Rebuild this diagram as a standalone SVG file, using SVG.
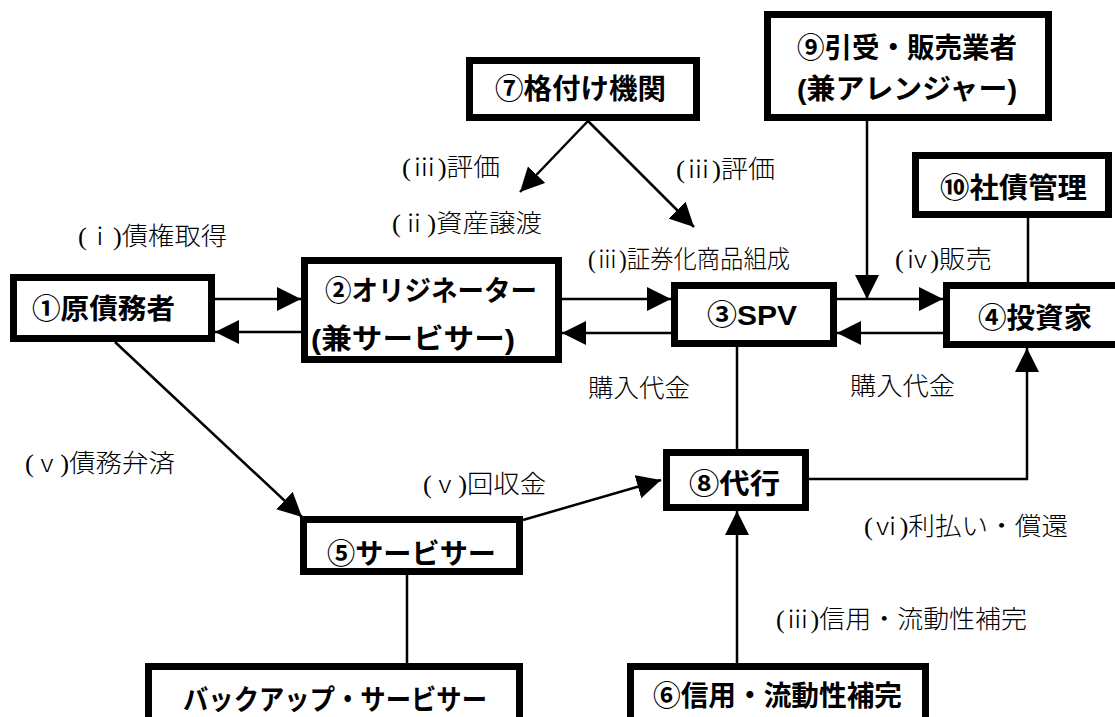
<svg xmlns="http://www.w3.org/2000/svg" width="1115" height="717" viewBox="0 0 1115 717">
<style>
.box{fill:#fff;stroke:#000;stroke-width:7}
.ln{stroke:#000;stroke-width:2.5;fill:none}
.nt{font-family:"Liberation Sans","Noto Sans CJK JP",sans-serif;font-size:28px;font-weight:700;fill:#000}
.lbl{font-family:"Liberation Serif","Noto Sans CJK JP",serif;font-size:25px;font-weight:300;fill:#000}
</style>
<defs>
<marker id="ah" markerUnits="userSpaceOnUse" markerWidth="24" markerHeight="24" viewBox="0 0 24 24" refX="24" refY="12" orient="auto">
<path d="M0,0 L24,12 L0,24 z" fill="#000"/>
</marker>
</defs>
<rect width="1115" height="717" fill="#fff"/>
<g id="connectors">
<line class="ln" x1="215" y1="299" x2="301" y2="299" marker-end="url(#ah)"/>
<line class="ln" x1="301" y1="332" x2="215" y2="332" marker-end="url(#ah)"/>
<line class="ln" x1="562" y1="299" x2="671" y2="299" marker-end="url(#ah)"/>
<line class="ln" x1="671" y1="333" x2="562" y2="333" marker-end="url(#ah)"/>
<line class="ln" x1="837" y1="299" x2="943" y2="299" marker-end="url(#ah)"/>
<line class="ln" x1="943" y1="333" x2="837" y2="333" marker-end="url(#ah)"/>
<line class="ln" x1="867" y1="121" x2="867" y2="299" marker-end="url(#ah)"/>
<line class="ln" x1="1028" y1="218" x2="1028" y2="282"/>
<line class="ln" x1="737" y1="347" x2="737" y2="449"/>
<polyline class="ln" points="809,479 1027,479 1027,348" marker-end="url(#ah)"/>
<line class="ln" x1="115" y1="342" x2="302" y2="517" marker-end="url(#ah)"/>
<line class="ln" x1="523" y1="520" x2="661" y2="480" marker-end="url(#ah)"/>
<line class="ln" x1="407" y1="575" x2="407" y2="663"/>
<line class="ln" x1="737" y1="663" x2="737" y2="511" marker-end="url(#ah)"/>
<line class="ln" x1="588" y1="121" x2="520" y2="192" marker-end="url(#ah)"/>
<line class="ln" x1="588" y1="121" x2="694" y2="227" marker-end="url(#ah)"/>
</g>
<g id="labels">
<text class="lbl" x="78" y="244.5" textLength="149" lengthAdjust="spacingAndGlyphs">(ⅰ)債権取得</text>
<text class="lbl" x="402" y="175.5" textLength="98" lengthAdjust="spacingAndGlyphs">(ⅲ)評価</text>
<text class="lbl" x="392" y="231.5" textLength="150" lengthAdjust="spacingAndGlyphs">(ⅱ)資産譲渡</text>
<text class="lbl" x="676" y="177.5" textLength="99" lengthAdjust="spacingAndGlyphs">(ⅲ)評価</text>
<text class="lbl" x="588" y="267.5" textLength="202" lengthAdjust="spacingAndGlyphs">(ⅲ)証券化商品組成</text>
<text class="lbl" x="895" y="267.5" textLength="97" lengthAdjust="spacingAndGlyphs">(ⅳ)販売</text>
<text class="lbl" x="588" y="396.5" textLength="102" lengthAdjust="spacingAndGlyphs">購入代金</text>
<text class="lbl" x="850" y="394.5" textLength="105" lengthAdjust="spacingAndGlyphs">購入代金</text>
<text class="lbl" x="25" y="471.5" textLength="150" lengthAdjust="spacingAndGlyphs">(ⅴ)債務弁済</text>
<text class="lbl" x="423" y="492.5" textLength="123" lengthAdjust="spacingAndGlyphs">(ⅴ)回収金</text>
<text class="lbl" x="864" y="534.5" textLength="204" lengthAdjust="spacingAndGlyphs">(ⅵ)利払い・償還</text>
<text class="lbl" x="776" y="627.5" textLength="251" lengthAdjust="spacingAndGlyphs">(ⅲ)信用・流動性補完</text>
</g>
<g id="n1"><rect class="box" x="13.5" y="277.5" width="198" height="61"/><text class="nt" x="32" y="318.5" textLength="143" lengthAdjust="spacingAndGlyphs">①原債務者</text></g>
<g id="n2"><rect class="box" x="304.5" y="260.5" width="254" height="99"/><text class="nt" x="325" y="300.5" textLength="212" lengthAdjust="spacingAndGlyphs">②オリジネーター</text><text class="nt" x="311" y="348.5" textLength="204" lengthAdjust="spacingAndGlyphs">(兼サービサー)</text></g>
<g id="n3"><rect class="box" x="674.5" y="285.5" width="159" height="58"/><text class="nt" x="707" y="325" textLength="90" lengthAdjust="spacingAndGlyphs">③SPV</text></g>
<g id="n4"><rect class="box" x="946.5" y="285.5" width="180" height="59"/><text class="nt" x="978" y="327.5" textLength="114" lengthAdjust="spacingAndGlyphs">④投資家</text></g>
<g id="n7"><rect class="box" x="469.5" y="60.5" width="227" height="57"/><text class="nt" x="495" y="98.5" textLength="171" lengthAdjust="spacingAndGlyphs">⑦格付け機関</text></g>
<g id="n9"><rect class="box" x="767.5" y="14.5" width="281" height="103"/><text class="nt" x="797" y="57.5" textLength="220" lengthAdjust="spacingAndGlyphs">⑨引受・販売業者</text><text class="nt" x="797" y="98.5" textLength="220" lengthAdjust="spacingAndGlyphs">(兼アレンジャー)</text></g>
<g id="n10"><rect class="box" x="915.5" y="155.5" width="193" height="59"/><text class="nt" x="940" y="197.5" textLength="147" lengthAdjust="spacingAndGlyphs">⑩社債管理</text></g>
<g id="n5"><rect class="box" x="303.5" y="519.5" width="216" height="52"/><text class="nt" x="327" y="563.5" textLength="169" lengthAdjust="spacingAndGlyphs">⑤サービサー</text></g>
<g id="n8"><rect class="box" x="666.5" y="452.5" width="139" height="55"/><text class="nt" x="689" y="493.5" textLength="91" lengthAdjust="spacingAndGlyphs">⑧代行</text></g>
<g id="n6"><rect class="box" x="630.5" y="666.5" width="295" height="70"/><text class="nt" x="653" y="706" textLength="249" lengthAdjust="spacingAndGlyphs">⑥信用・流動性補完</text></g>
<g id="nb"><rect class="box" x="148.5" y="666.5" width="371" height="70"/><text class="nt" x="183" y="710" textLength="304" lengthAdjust="spacingAndGlyphs">バックアップ・サービサー</text></g>
</svg>
